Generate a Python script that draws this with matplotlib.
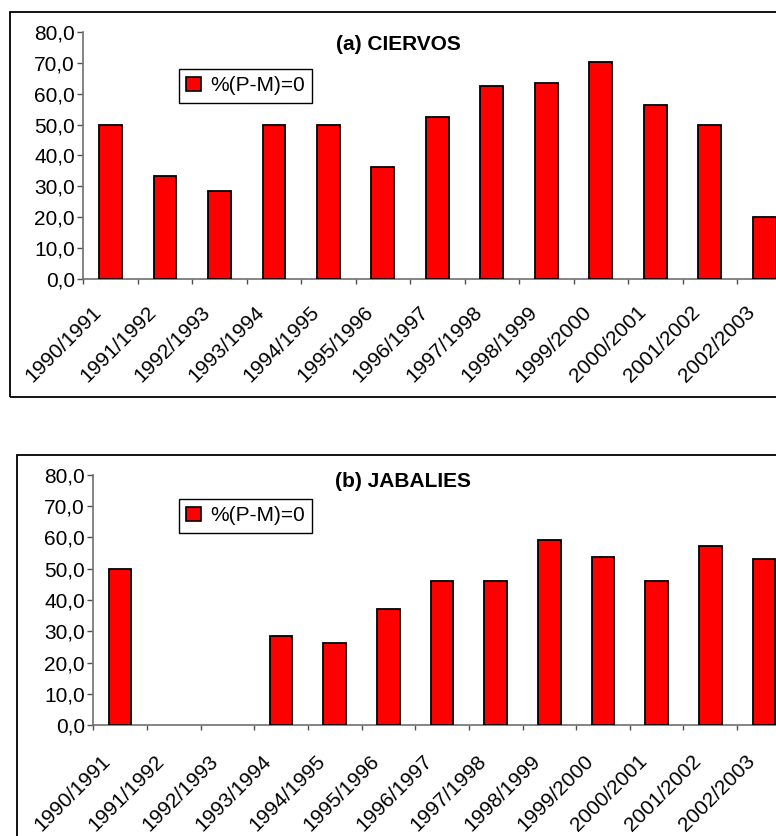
import numpy as np
import matplotlib
matplotlib.use('Agg')
import matplotlib.pyplot as plt
from matplotlib.patches import Rectangle, Patch
from matplotlib.transforms import ScaledTranslation

plt.rcParams['font.family'] = ['Liberation Sans', 'DejaVu Sans']

seasons = ['1990/1991', '1991/1992', '1992/1993', '1993/1994', '1994/1995',
           '1995/1996', '1996/1997', '1997/1998', '1998/1999', '1999/2000',
           '2000/2001', '2001/2002', '2002/2003']
ciervos = [50.0, 33.3, 28.6, 50.0, 50.0, 36.4, 52.6, 62.5, 63.6, 70.4, 56.5, 50.0, 20.0]
jabalies = [50.0, 0.0, 0.0, 28.6, 26.3, 37.0, 46.0, 46.0, 59.0, 53.8, 46.0, 57.1, 53.1]
titles = ['(a) CIERVOS', '(b) JABALIES']
legend_label = '%(P-M)=0'

W, H = 776, 836
fig = plt.figure(figsize=(W / 100, H / 100), dpi=100)


def fx(px):
    return px / W


def fy(py):
    return 1 - py / H


def make_panel(vals, title, left, right, top, bottom, box, title_xy, leg_xy, lab_dy):
    ax = fig.add_axes([fx(left), fy(bottom), fx(right - left), (bottom - top) / H])
    x = np.arange(len(seasons))
    vals = np.array(vals)
    # a season at 0 % shows no bar at all in the original
    shown = vals > 0
    ax.bar(x[shown], vals[shown], width=0.42, color='#ff0000', edgecolor='black',
           linewidth=1.3, zorder=3)
    ax.set_xlim(-0.5, len(seasons) - 0.5)
    ax.set_ylim(0, 80)
    for s in ['top', 'right']:
        ax.spines[s].set_visible(False)
    for s in ['left', 'bottom']:
        ax.spines[s].set_color('#707070')
        ax.spines[s].set_linewidth(1.2)

    yt = np.arange(0, 81, 10)
    ax.set_yticks(yt)
    ax.set_yticklabels([f'{v:.1f}'.replace('.', ',') for v in yt])
    ax.tick_params(axis='y', direction='out', length=4, width=1, color='#505050',
                   labelsize=15, pad=2)

    ax.set_xticks(x)
    ax.set_xticks(np.arange(-0.5, len(seasons), 1), minor=True)
    ax.set_xticklabels(seasons)
    ax.tick_params(axis='x', which='major', length=0, labelsize=15, pad=lab_dy)
    ax.tick_params(axis='x', which='minor', direction='out', length=3.5, width=1,
                   color='#505050')
    off = ScaledTranslation(-19 / 100, 0, fig.dpi_scale_trans)
    for lab in ax.get_xticklabels():
        lab.set_rotation(45)
        lab.set_ha('right')
        lab.set_va('top')
        lab.set_rotation_mode('anchor')
        lab.set_transform(lab.get_transform() + off)

    fig.text(fx(title_xy[0]), fy(title_xy[1]), title, ha='center', va='center',
             fontsize=15, fontweight='bold')

    handle = Patch(facecolor='#ff0000', edgecolor='black', linewidth=1.2)
    leg = ax.legend([handle], [legend_label], loc='upper left',
                    bbox_to_anchor=(fx(leg_xy[0]), fy(leg_xy[1])),
                    bbox_transform=fig.transFigure, borderaxespad=0,
                    fontsize=15, fancybox=False, framealpha=1,
                    handlelength=0.7, handleheight=0.7, handletextpad=0.45,
                    borderpad=0.35)
    leg.get_frame().set_edgecolor('black')
    leg.get_frame().set_linewidth(1.0)

    bx0, by0, bx1, by1 = box
    fig.add_artist(Rectangle((fx(bx0), fy(by1)), fx(bx1 - bx0), (by1 - by0) / H,
                             transform=fig.transFigure, fill=False,
                             edgecolor='black', linewidth=1.3))
    return ax


make_panel(ciervos, titles[0], 83.3, 791.5, 32.3, 278.7,
           (9.5, 12, 800, 397), (398, 44), (179, 69), 17)
make_panel(jabalies, titles[1], 93.3, 790.8, 474.7, 725.3,
           (17, 455, 800, 860), (403, 482), (179, 499), 19)

fig.savefig('out.png', dpi=100)
